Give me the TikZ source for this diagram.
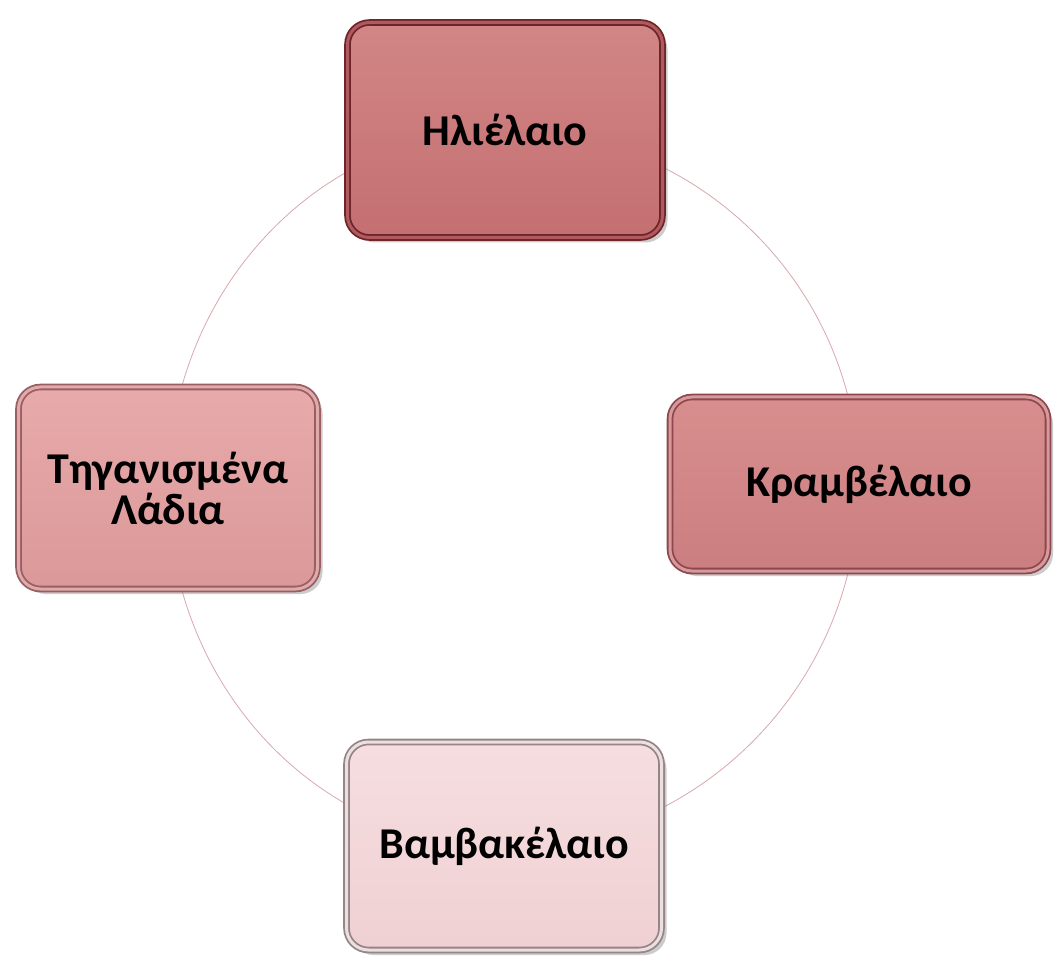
\documentclass[tikz,border=0pt]{standalone}
\usepackage{fontspec}
\setmainfont{Carlito}
\usetikzlibrary{shadows,backgrounds}
\definecolor{topB}{HTML}{6E2529}
\definecolor{topL}{HTML}{B0595E}
\definecolor{topT}{HTML}{D28686}
\definecolor{topD}{HTML}{C46F71}
\definecolor{rgtB}{HTML}{8E474C}
\definecolor{rgtL}{HTML}{D69A9C}
\definecolor{rgtT}{HTML}{D88E8E}
\definecolor{rgtD}{HTML}{CB7E80}
\definecolor{lftB}{HTML}{9A5D61}
\definecolor{lftL}{HTML}{DEAAAC}
\definecolor{lftT}{HTML}{E8AAAA}
\definecolor{lftD}{HTML}{DB9899}
\definecolor{botB}{HTML}{968486}
\definecolor{botL}{HTML}{EAE0E1}
\definecolor{botT}{HTML}{F6DEE0}
\definecolor{botD}{HTML}{EFD0D3}
\definecolor{linkcol}{HTML}{D9A8AE}
\begin{document}
\begin{tikzpicture}[x=1pt,y=-1pt,
  box/.style={rectangle, rounded corners=22pt, align=center,
    font=\fontsize{44}{41}\selectfont\bfseries, text=black,
    line width=1.8pt, double distance=3pt, inner sep=0pt,
    drop shadow={shadow xshift=5pt,shadow yshift=-5pt,opacity=0.4}},
  link/.style={draw=linkcol, line width=0.8pt}]
\useasboundingbox (0,0) rectangle (1055,957);
\node[box, minimum width=315pt, minimum height=215pt, draw=topB, double=topL,
  top color=topT, bottom color=topD] (top) at (505,130) {Ηλιέλαιο};
\node[box, minimum width=378pt, minimum height=174pt, draw=rgtB, double=rgtL,
  top color=rgtT, bottom color=rgtD] (right) at (859,484) {Κραμβέλαιο};
\node[box, minimum width=315pt, minimum height=208pt, draw=botB, double=botL,
  top color=botT, bottom color=botD] (bottom) at (504,846) {Βαμβακέλαιο};
\node[box, minimum width=299pt, minimum height=202pt, draw=lftB, double=lftL,
  top color=lftT, bottom color=lftD] (left) at (168,488) {Τηγανισμένα\\Λάδια};
\begin{scope}[on background layer]
\fill[white] (0,0) rectangle (1055,957);
\draw[link] (top.center) .. controls +(195,0) and +(0,-195) .. (right.center);
\draw[link] (right.center) .. controls +(0,199) and +(195,0) .. (bottom.center);
\draw[link] (bottom.center) .. controls +(-185,0) and +(0,198) .. (left.center);
\draw[link] (left.center) .. controls +(0,-197) and +(-186,0) .. (top.center);
\end{scope}
\end{tikzpicture}
\end{document}
